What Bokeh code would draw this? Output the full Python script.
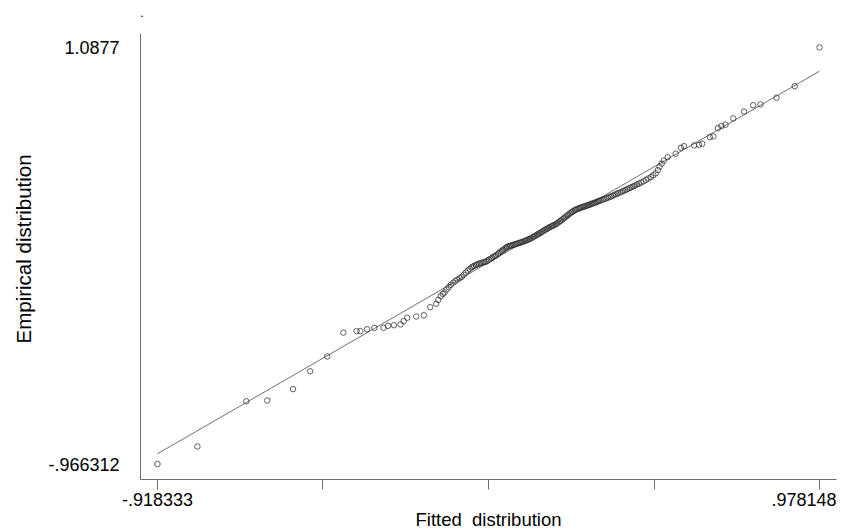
from bokeh.plotting import figure
from bokeh.models import Range1d, FixedTicker, LinearAxis, Title
from bokeh.embed import file_html
from bokeh.resources import INLINE

# ---- data (fitted vs empirical quantiles) ----
fitted = [
    -0.918333, -0.804, -0.664, -0.604, -0.530, -0.481, -0.432, -0.386, -0.348, -0.337,
    -0.318, -0.297, -0.271, -0.258, -0.241, -0.222, -0.213, -0.203, -0.177, -0.155,
    -0.137, -0.120,
    -0.114, -0.107, -0.101, -0.096, -0.090, -0.084, -0.078, -0.071, -0.065, -0.059,
    -0.053, -0.047, -0.041, -0.035, -0.029, -0.024,
    -0.019, -0.015, -0.011, -0.006, -0.002, 0.002, 0.006, 0.010, 0.015, 0.019,
    0.023, 0.027, 0.031, 0.036, 0.040, 0.044, 0.048, 0.052, 0.057, 0.061,
    0.065, 0.069, 0.072, 0.076, 0.080, 0.083, 0.087, 0.091, 0.094, 0.098,
    0.102, 0.105, 0.109, 0.113, 0.116, 0.120, 0.124, 0.127, 0.131, 0.135,
    0.138, 0.142, 0.146, 0.149, 0.153, 0.157, 0.160, 0.164, 0.168, 0.171,
    0.175, 0.179, 0.182, 0.186, 0.190, 0.193, 0.197, 0.201, 0.204, 0.208,
    0.212, 0.215, 0.219, 0.223, 0.226, 0.230, 0.234, 0.237, 0.241, 0.245,
    0.248, 0.252, 0.256, 0.259, 0.263, 0.267, 0.270, 0.274, 0.278, 0.281,
    0.285, 0.289, 0.292, 0.296, 0.300, 0.303, 0.307, 0.311, 0.314, 0.318,
    0.322, 0.325, 0.329, 0.333, 0.336, 0.340, 0.344, 0.347, 0.351,
    0.356, 0.361, 0.366, 0.371, 0.376, 0.381, 0.386, 0.391, 0.396, 0.401,
    0.406, 0.411, 0.416, 0.421, 0.426, 0.431, 0.436, 0.441, 0.446, 0.451,
    0.456, 0.461,
    0.467, 0.474, 0.481, 0.488, 0.495, 0.502, 0.509, 0.515, 0.520, 0.526, 0.532,
    0.543, 0.566, 0.581, 0.590, 0.619, 0.633, 0.642, 0.664, 0.674, 0.687,
    0.697, 0.709, 0.731, 0.762, 0.788, 0.809, 0.855, 0.907, 0.978148,
]
empirical = [
    -0.966312, -0.880, -0.657, -0.653, -0.597, -0.509, -0.436, -0.318, -0.311, -0.311,
    -0.302, -0.295, -0.295, -0.285, -0.282, -0.278, -0.262, -0.245, -0.239, -0.233,
    -0.193, -0.176,
    -0.157, -0.139, -0.128, -0.121, -0.106, -0.094, -0.083, -0.072, -0.064, -0.057,
    -0.050, -0.044, -0.033, -0.022, -0.012, -0.004,
    0.003, 0.007, 0.011, 0.015, 0.018, 0.021, 0.023, 0.026, 0.028, 0.030,
    0.032, 0.036, 0.041, 0.046, 0.050, 0.055, 0.059, 0.063, 0.070, 0.076,
    0.081, 0.085, 0.090, 0.095, 0.100, 0.104, 0.107, 0.109, 0.111, 0.113,
    0.115, 0.117, 0.119, 0.121, 0.123, 0.125, 0.127, 0.129, 0.132, 0.134,
    0.137, 0.139, 0.142, 0.145, 0.148, 0.152, 0.156, 0.159, 0.163, 0.167,
    0.170, 0.174, 0.178, 0.182, 0.186, 0.190, 0.193, 0.197, 0.201, 0.204,
    0.207, 0.210, 0.213, 0.216, 0.220, 0.225, 0.230, 0.234, 0.239, 0.244,
    0.249, 0.254, 0.259, 0.264, 0.269, 0.274, 0.278, 0.282, 0.286, 0.289,
    0.292, 0.294, 0.297, 0.299, 0.301, 0.303, 0.305, 0.307, 0.310, 0.312,
    0.314, 0.317, 0.319, 0.321, 0.324, 0.326, 0.329, 0.331, 0.334,
    0.337, 0.340, 0.343, 0.346, 0.350, 0.353, 0.357, 0.361, 0.365, 0.369,
    0.372, 0.376, 0.380, 0.384, 0.388, 0.392, 0.396, 0.400, 0.404, 0.408,
    0.413, 0.417,
    0.422, 0.428, 0.435, 0.442, 0.449, 0.458, 0.467, 0.483, 0.500, 0.515, 0.530,
    0.547, 0.564, 0.593, 0.601, 0.605, 0.608, 0.613, 0.646, 0.649, 0.690,
    0.700, 0.707, 0.738, 0.772, 0.803, 0.807, 0.840, 0.897, 1.0877,
]
# reference (fitted) line end points
line_x = [-0.918333, 0.978148]
line_y = [-0.916, 0.971]

x_ticks = [-0.918333, -0.444213, 0.029908, 0.504028, 0.978148]
x_tick_labels = ["-.918333", "", "", "", ".978148"]
y_ticks = [-0.966312, 1.0877]
y_tick_labels = ["-.966312", "1.0877"]

x_title = "Fitted\u00a0 distribution"
y_title = "Empirical distribution"
top_title = "."
top_title_x = -0.9625

FONT = "Liberation Sans"
AXIS_COL = "#6e6e6e"
NBSP = "\u00a0"

p = figure(width=841, height=532, output_backend="svg", toolbar_location=None,
           x_range=Range1d(-0.96696, 1.02677), y_range=Range1d(-1.04275, 1.15674),
           min_border_left=139, min_border_right=5, min_border_top=33,
           min_border_bottom=53)
p.grid.visible = False
p.outline_line_color = None
p.background_fill_color = "white"
p.border_fill_color = "white"

p.line(line_x, line_y, line_color="#4a4a4a", line_width=0.8)
p.scatter(fitted, empirical, marker="circle", size=5.5, fill_color=None,
          line_color="#2e2e2e", line_width=0.75)

# ---- x axis ----
xa = p.xaxis[0]
xa.ticker = FixedTicker(ticks=x_ticks)
# Stata keeps the right-most label inside the canvas: pad it so it sits left of its tick
labels = list(x_tick_labels)
labels[-1] = labels[-1] + NBSP
xa.major_label_overrides = dict(zip(x_ticks, labels))
xa.major_tick_out = 10
xa.major_tick_in = 0
xa.minor_tick_out = 0
xa.minor_tick_in = 0
xa.axis_line_color = AXIS_COL
xa.major_tick_line_color = AXIS_COL
xa.major_label_standoff = 0
xa.major_label_text_font = FONT
xa.major_label_text_font_size = "18px"
xa.major_label_text_color = "black"
xa.axis_label = x_title
xa.axis_label_standoff = -4
xa.axis_label_text_font = FONT
xa.axis_label_text_font_size = "18.5px"
xa.axis_label_text_font_style = "normal"
xa.axis_label_text_color = "black"

# ---- y axis ----
ya = p.yaxis[0]
ya.ticker = FixedTicker(ticks=y_ticks)
ya.major_label_overrides = dict(zip(y_ticks, y_tick_labels))
ya.major_tick_out = 0
ya.major_tick_in = 0
ya.minor_tick_out = 0
ya.minor_tick_in = 0
ya.major_label_standoff = 21
ya.axis_line_color = AXIS_COL
ya.major_label_text_font = FONT
ya.major_label_text_font_size = "18px"
ya.major_label_text_color = "black"

# y title (vertical), placed slightly above the frame centre as in the reference
p.add_layout(Title(text=y_title, align="left", offset=136, standoff=20,
                   vertical_align="middle", text_font=FONT, text_font_size="20.5px",
                   text_font_style="normal", text_color="black"), "left")

# the lone "." title above the plot
dot_axis = LinearAxis(ticker=FixedTicker(ticks=[top_title_x]),
                      major_label_overrides={top_title_x: top_title},
                      axis_line_color=None, major_tick_line_color=None,
                      minor_tick_line_color=None, major_tick_out=0, major_tick_in=0,
                      minor_tick_out=0, minor_tick_in=0, major_label_standoff=17,
                      major_label_text_font=FONT, major_label_text_font_size="13px",
                      major_label_text_color="black")
p.add_layout(dot_axis, "above")

open("out.html", "w").write(file_html(p, INLINE))
